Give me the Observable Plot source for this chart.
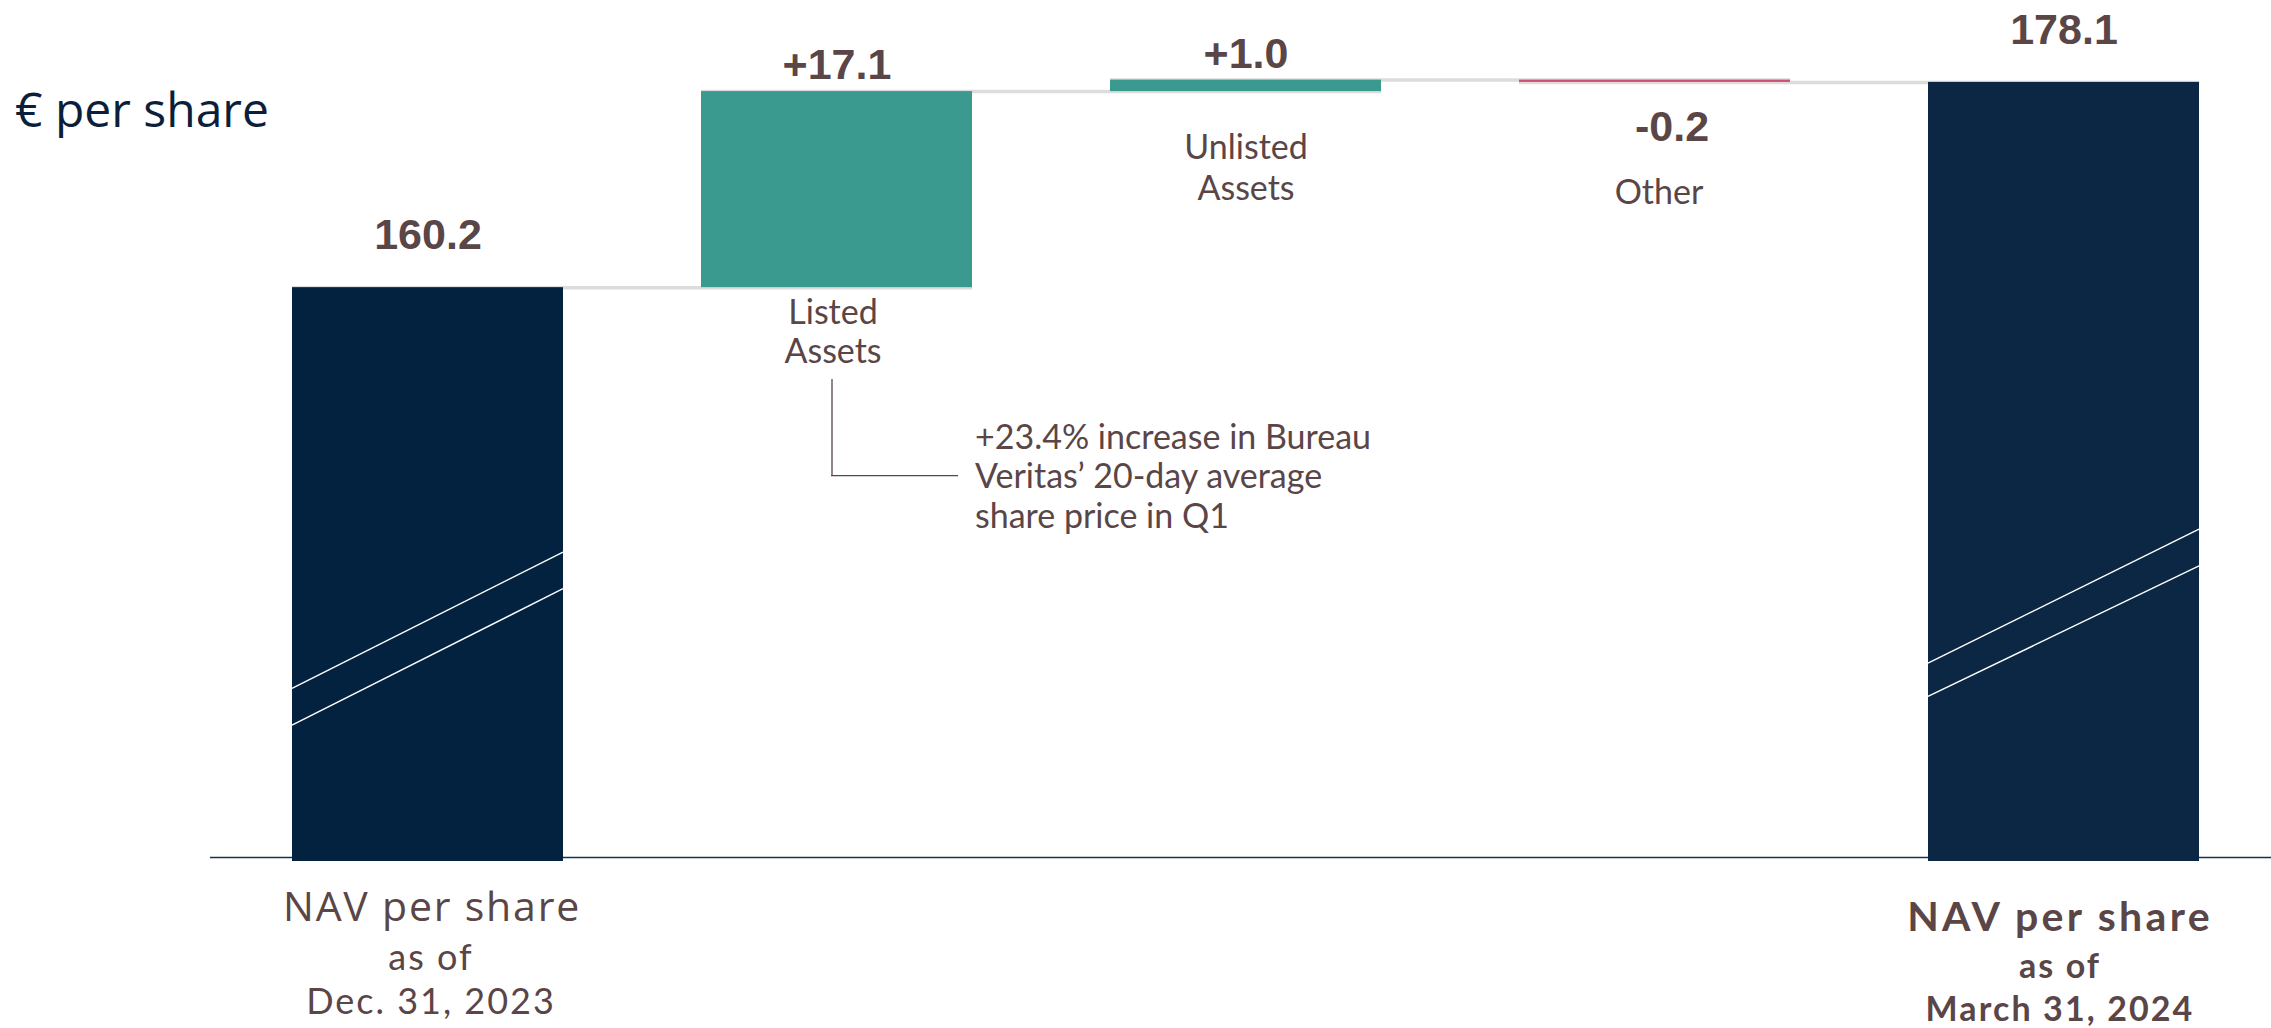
<!DOCTYPE html>
<html>
<head>
<meta charset="utf-8">
<script src="https://cdn.jsdelivr.net/npm/d3@7"></script>
<script src="https://cdn.jsdelivr.net/npm/@observablehq/plot@0.6"></script>
<style>
  html, body { margin: 0; padding: 0; background: #ffffff; overflow: hidden; }
  #wrap { position: relative; width: 2271px; height: 1028px; }
  #unit { position: absolute; left: 15px; top: 80px; font-family: "Open Sans", sans-serif; font-size: 48px;
          line-height: 1.2; color: #0b1e3a; white-space: nowrap; }
  #chart { position: absolute; left: 0; top: 0; }
</style>
</head>
<body>
<div id="wrap">
  <div id="chart"></div>
  <div id="unit">€ per share</div>
</div>
<script>
// ---------- data ----------
const categories = ["NAV Dec. 31, 2023", "Listed Assets", "Unlisted Assets", "Other", "NAV March 31, 2024"];
const kinds = ["total", "delta", "delta", "delta", "total"];
const values = [160.2, 17.1, 1.0, -0.2, 178.1];
const valueLabels = ["160.2", "+17.1", "+1.0", "-0.2", "178.1"];
const categoryLabels = ["Listed\nAssets", "Unlisted\nAssets", "Other"];
const totalTitle = ["NAV per share", "NAV per share"];
const totalDates = ["as of\nDec. 31, 2023", "as of\nMarch 31, 2024"];
const noteText = "+23.4% increase in Bureau\nVeritas’ 20-day average\nshare price in Q1";

// broken value axis (the bars start at the break, not at zero)
const axisFloor = 110.5;
const axisCeil = 183.5;
// break slashes on the total bars: value at the band's left and right edge
const breakCategory = [categories[0], categories[0], categories[4], categories[4]];
const breakFrom = [125.2, 122.0, 127.4, 124.5];
const breakTo = [137.1, 133.9, 139.1, 135.9];
// annotation leader for Listed Assets (value positions)
const noteTop = 152.2;
const noteElbow = 143.8;

// ---------- styles ----------
const colors = {total0: "#03223f", total4: "#0b2743", up: "#3b9a90", down: "#d14f72"};
const textColor = "#5a4547";

// ---------- derived table ----------
let running = 0;
const rows = categories.map((cat, i) => {
  let y1, y2;
  if (kinds[i] === "total") { y1 = axisFloor; y2 = values[i]; running = values[i]; }
  else { y1 = running; y2 = running + values[i]; running = y2; }
  const fill = kinds[i] === "total" ? (i === 0 ? colors.total0 : colors.total4) : (values[i] >= 0 ? colors.up : colors.down);
  return {cat, kind: kinds[i], value: values[i], label: valueLabels[i], y1, y2,
          top: Math.max(y1, y2), bottom: Math.min(y1, y2), fill, end: running};
});
const totals = rows.filter(d => d.kind === "total");
const deltas = rows.filter(d => d.kind === "delta");
const connectors = rows.slice(0, -1).map((d, i) => ({x1: d.cat, x2: rows[i + 1].cat, y: d.end}));
const breaks = breakCategory.map((c, i) => ({cat: c, from: breakFrom[i], to: breakTo[i]}));
deltas.forEach((d, i) => d.name = categoryLabels[i]);
totals.forEach((d, i) => { d.title = totalTitle[i]; d.dates = totalDates[i]; });
const note = [{cat: categories[1], top: noteTop, elbow: noteElbow, text: noteText}];

// custom mark: white break slashes spanning each total bar's band
function breakSlashes(index, scales) {
  const x = scales.x, y = scales.y;
  const bw = typeof x.bandwidth === "function" ? x.bandwidth() : x.bandwidth;
  const g = d3.create("svg:g");
  for (const b of breaks) {
    const x0 = x(b.cat);
    g.append("line")
      .attr("x1", x0).attr("x2", x0 + bw)
      .attr("y1", y(b.from)).attr("y2", y(b.to))
      .attr("stroke", "#ffffff").attr("stroke-width", 1.4);
  }
  return g.node();
}
// render wrapper adding letter spacing to a text mark
const spaced = ls => (index, scales, vals, dims, context, next) => {
  const g = next(index, scales, vals, dims, context);
  if (g) g.setAttribute("letter-spacing", ls);
  return g;
};

const sans = "Lato, 'Open Sans', sans-serif";
const bold = "'Liberation Sans', Arial, sans-serif";
const open = "'Open Sans', sans-serif";

const chart = Plot.plot({
  width: 2271,
  height: 1028,
  marginTop: 20,
  marginBottom: 171,
  marginLeft: 210,
  marginRight: 0,
  style: {background: "#ffffff", fontFamily: sans},
  x: {domain: categories, axis: null, paddingInner: 0.338, paddingOuter: 0.184, align: 0.53},
  y: {domain: [axisFloor, axisCeil], axis: null},
  color: {type: "identity"},
  marks: [
    Plot.ruleY(connectors, {x1: "x1", x2: "x2", y: "y", stroke: "#dcdcdc", strokeWidth: 3.5}),
    Plot.ruleY([axisFloor], {stroke: "#17314f", strokeWidth: 1.5}),
    Plot.barY(totals, {x: "cat", y1: "y1", y2: "y2", fill: "fill", insetBottom: -4}),
    Plot.barY(deltas, {x: "cat", y1: "y1", y2: "y2", fill: "fill"}),
    breakSlashes,
    // value labels
    Plot.text(totals, {x: "cat", y: "top", text: "label", dy: -52, fontSize: 43, fontWeight: 700, fontFamily: bold, fill: textColor}),
    Plot.text(deltas.filter(d => d.value >= 0), {x: "cat", y: "top", text: "label", dy: -26, fontSize: 43, fontWeight: 700, fontFamily: bold, fill: textColor}),
    Plot.text(deltas.filter(d => d.value < 0), {x: "cat", y: "bottom", text: "label", dy: 45, dx: 17, fontSize: 43, fontWeight: 700, fontFamily: bold, fill: textColor}),
    // category labels under the delta bars
    Plot.text(deltas.slice(0, 1), {x: "cat", y: "bottom", text: "name", dy: 43, dx: -4, fontSize: 34, lineHeight: 1.15, fill: textColor}),
    Plot.text(deltas.slice(1, 2), {x: "cat", y: "bottom", text: "name", dy: 75, fontSize: 34, lineHeight: 1.2, fill: textColor}),
    Plot.text(deltas.slice(2, 3), {x: "cat", y: "bottom", text: "name", dy: 111, dx: 4, fontSize: 34, fill: textColor}),
    // annotation
    Plot.ruleX(note, {x: "cat", y1: "top", y2: "elbow", dx: -5, stroke: textColor, strokeWidth: 1.3}),
    Plot.ruleY(note, {x1: "cat", x2: "cat", y: "elbow", insetLeft: 130, insetRight: 14, stroke: textColor, strokeWidth: 1.3}),
    Plot.text(note, {x: "cat", y: "elbow", text: "text", textAnchor: "start", dx: 138, fontSize: 34, lineHeight: 1.16, fill: textColor}),
    // labels under the total bars
    Plot.text(totals.slice(0, 1), {x: "cat", y: "bottom", text: "title", dy: 50, dx: 4, fontSize: 41, fontFamily: open, fill: textColor, render: spaced(1.8)}),
    Plot.text(totals.slice(0, 1), {x: "cat", y: "bottom", text: "dates", dy: 120, dx: 3, fontSize: 36, lineHeight: 1.22, fontFamily: sans, fill: textColor, render: spaced(2)}),
    Plot.text(totals.slice(1, 2), {x: "cat", y: "bottom", text: "title", dy: 60, dx: -4, fontSize: 41, fontWeight: 700, fontFamily: sans, fill: textColor, render: spaced(3.3)}),
    Plot.text(totals.slice(1, 2), {x: "cat", y: "bottom", text: "dates", dy: 128.5, dx: -4, fontSize: 34, lineHeight: 1.265, fontWeight: 700, fontFamily: sans, fill: textColor, render: spaced(2.1)})
  ]
});
document.getElementById("chart").appendChild(chart);
</script>
</body>
</html>
